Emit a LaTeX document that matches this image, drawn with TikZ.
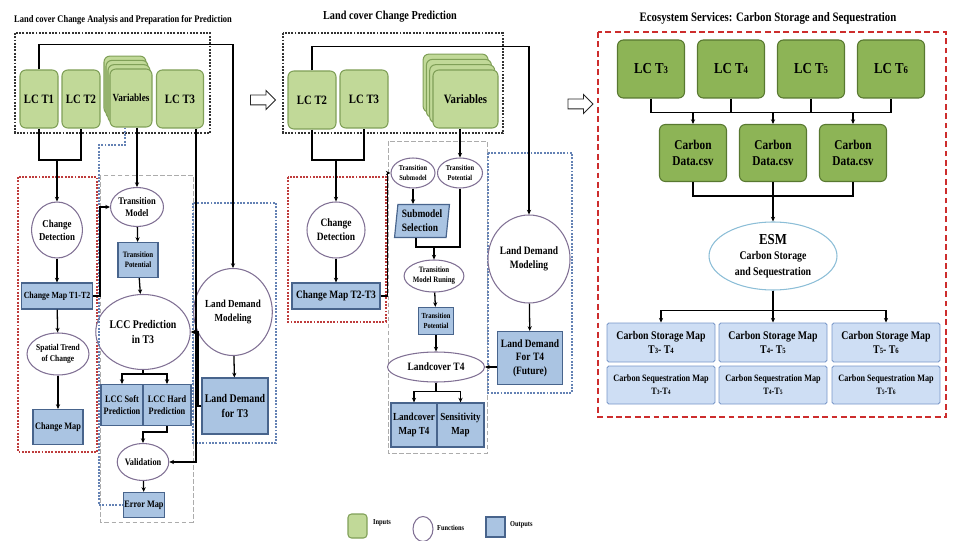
\documentclass[tikz,border=0pt]{standalone}
\usepackage{fontspec}
\setmainfont{Liberation Serif}[FakeStretch=0.84]
\usetikzlibrary{shapes.geometric, shapes.arrows, arrows.meta, calc}
\definecolor{ingreen}{RGB}{193,217,152}
\definecolor{ingreenln}{RGB}{128,160,88}
\definecolor{darkgreen}{RGB}{141,180,86}
\definecolor{darkgreenln}{RGB}{88,120,48}
\definecolor{outblue}{RGB}{170,196,226}
\definecolor{outblueln}{RGB}{72,100,140}
\definecolor{mapblue}{RGB}{206,222,244}
\definecolor{mapblueln}{RGB}{120,150,200}
\definecolor{funedge}{RGB}{128,112,148}
\definecolor{esmedge}{RGB}{140,190,215}
\definecolor{dotred}{RGB}{190,60,60}
\definecolor{dotblue}{RGB}{100,130,180}
\definecolor{dashred}{RGB}{205,45,45}
\newcommand\fsz[2]{\fontsize{#1}{#2}\selectfont\bfseries}
\newcommand\dg[1]{\scalebox{0.68}{#1}}

\begin{document}
\begin{tikzpicture}[x=0.03cm, y=-0.03cm,
    sz/.style 2 args = {minimum width=#1*0.03cm, minimum height=#2*0.03cm},
    inbox/.style   = {draw=ingreenln, fill=ingreen, line width=0.9pt,
                      rounded corners=5pt, inner sep=1pt, align=center,
                      font=\fsz{10.9}{13}},
    inboxdk/.style = {inbox, draw=darkgreenln, fill=darkgreen, font=\fsz{11.5}{14}},
    funell/.style  = {ellipse, draw=funedge, fill=white, line width=0.9pt,
                      inner sep=0pt, align=center, font=\fsz{9}{11}},
    outbox/.style  = {rectangle, draw=outblueln, fill=outblue, line width=1pt,
                      inner sep=1pt, align=center, font=\fsz{9}{11}},
    mapbox/.style  = {rectangle, draw=mapblueln, fill=mapblue, line width=0.8pt,
                      rounded corners=1.5pt, inner sep=1pt, align=center,
                      font=\fsz{10}{12}},
    ln/.style      = {line width=1.1pt, black},
    arr/.style     = {ln, -{Stealth[length=4pt, width=3.6pt]}},
    grpblack/.style = {draw=black!80, line width=1pt, dash pattern=on 1.6pt off 1.2pt},
    grpred/.style   = {draw=dotred, line width=1pt, dash pattern=on 1.6pt off 1.2pt},
    grpblue/.style  = {draw=dotblue, line width=1pt, dash pattern=on 1.6pt off 1.2pt},
    grpgray/.style  = {draw=gray!65, line width=0.8pt, dash pattern=on 4pt off 2pt},
    grpbig/.style   = {draw=dashred, line width=1.3pt, dash pattern=on 5pt off 3pt},
    ttl/.style     = {inner sep=0pt},
    nextarr/.style = {single arrow, draw=black!85, fill=white, line width=0.8pt,
                      minimum height=25*0.03cm, inner xsep=0pt, inner ysep=4.5*0.03cm,
                      single arrow head extend=4.5*0.03cm},
  ]
  \useasboundingbox (0,0) rectangle (953,541);

  % --- Part 1: change analysis ---
  \node[ttl, font=\fsz{8.6}{10}] (ttlA) at (123,20) {Land cover Change Analysis and Preparation for Prediction};
  \draw[grpblack] (15,33) rectangle (210,133);
  \draw[grpred]   (18,177) rectangle (97,452);
  \draw[grpgray]  (100,175) rectangle (193,522);
  \draw[grpblue]  (193,203) rectangle (276,443);

  \node[inbox, sz={38}{58}] (lcA1) at (39,99)  {LC T1};
  \node[inbox, sz={38}{58}] (lcA2) at (81,99)  {LC T2};
  \foreach \k in {3,2,1}
    \node[inbox, sz={42}{58}] (varA\k) at ({131-2*\k},{98-4.3*\k}) {};
  \node[inbox, sz={42}{58}, font=\fsz{9.3}{11}] (varA) at (131,98) {Variables};
  \node[inbox, sz={47}{58}] (lcA3) at (180,99) {LC T3};

  \node[funell, sz={42}{56}] (detA) at (57,230) {Change\\Detection};
  \node[outbox, sz={71}{26}, font=\fsz{8}{10}] (cmapA) at (57,296) {Change Map T1-T2};
  \node[funell, sz={62}{42}, font=\fsz{7.6}{9}] (trend) at (58,354) {Spatial Trend\\of Change};
  \node[outbox, sz={50}{35}, font=\fsz{8.4}{10}] (cmap) at (58,427) {Change Map};

  \node[funell, sz={44}{39}, font=\fsz{8.6}{10.5}] (tmodA) at (137,207) {Transition\\Model};
  \node[outbox, sz={40}{35}, font=\fsz{7}{8.5}] (tpotA) at (138,260) {Transition\\Potential};
  \node[funell, sz={82}{75}, font=\fsz{10}{13}] (lccA) at (143,332) {LCC Prediction\\in T3};
  \node[outbox, sz={42}{41}, font=\fsz{8.4}{10.5}] (soft) at (122,405) {LCC Soft\\Prediction};
  \node[outbox, sz={48}{41}, font=\fsz{8.4}{10.5}] (hard) at (167,405) {LCC Hard\\Prediction};
  \node[funell, sz={43}{37}, font=\fsz{8.4}{10}] (valid) at (143,462) {Validation};
  \node[outbox, sz={40}{25}, font=\fsz{8.4}{10}] (err) at (144,505) {Error Map};

  \node[funell, sz={61}{87}, font=\fsz{9.2}{12}] (ldmA) at (233,312) {Land Demand\\Modeling};
  \node[outbox, sz={66}{56}, font=\fsz{10}{13}] (ldA) at (235,406) {Land Demand\\for T3};

  \draw[grpblue] ($(varA.south)+(-6,0)$) |- (99,145) |- (err.west);
  \draw[ln] (lcA1.south) |- (57,160) -| (lcA2.south);
  \draw[arr] (57,160) -- (detA.north);
  \draw[arr] (lcA1.north) -- ++(0,-25) -| (ldmA.north);
  \draw[arr] (varA.south -| tmodA.north) -- (tmodA.north);
  \draw[arr] ($(lcA3.south)+(16,0)$) |- (valid.east);
  \draw[arr] (ldA.west) -- ++(-3.5,0) |- (lccA.east);
  \draw[arr] (detA) -- (cmapA);
  \draw[arr] (cmapA) -- (trend);
  \draw[arr] (trend) -- (cmap);
  \draw[arr] (cmapA.east) -- ++(7,0) |- (tmodA.west);
  \draw[arr] (tmodA) -- (tpotA);
  \draw[arr] (tpotA) -- (lccA);
  \draw[arr] (lccA.south) -- ++(0,4) -| (soft.north);
  \draw[arr] (lccA.south) -- ++(0,4) -| (hard.north);
  \draw[arr] (hard.south) -- ++(0,6) -| (valid.north);
  \draw[arr] (valid) -- (err);
  \draw[arr] (ldmA) -- (ldA);

  \node[nextarr] (goB) at (260.5,100) {};

  % --- Part 2: prediction ---
  \node[ttl, font=\fsz{10.4}{12}] (ttlB) at (390,17) {Land cover Change Prediction};
  \draw[grpblack] (283,33) rectangle (503,133);
  \draw[grpred]   (288,177) rectangle (386,322);
  \draw[grpgray]  (388,141) rectangle (487,453);
  \draw[grpblue]  (488,153) rectangle (572,393);

  \node[inbox, sz={48}{58}] (lcB2) at (312,100) {LC T2};
  \node[inbox, sz={48}{58}] (lcB3) at (364,99)  {LC T3};
  \foreach \k in {3,2,1}
    \node[inbox, sz={65}{58}] (varB\k) at ({465.5-3.3*\k},{99-5.3*\k}) {};
  \node[inbox, sz={65}{58}] (varB) at (465.5,99) {Variables};

  \node[funell, sz={58}{56}, font=\fsz{9.6}{12}] (detB) at (336,230) {Change\\Detection};
  \node[outbox, sz={88}{26}, font=\fsz{9.6}{11}] (cmapB) at (336,296) {Change Map T2-T3};

  \node[funell, sz={44}{30}, font=\fsz{6.5}{8}] (tsub) at (413,173) {Transition\\Submodel};
  \node[funell, sz={45}{30}, font=\fsz{6.5}{8}] (tpotE) at (460,173) {Transition\\Potential};
  \node[trapezium, trapezium left angle=83, trapezium right angle=97,
        trapezium stretches=true, draw=outblueln, fill=outblue, line width=1pt,
        inner sep=1pt, align=left, font=\fsz{9.6}{12}, sz={55}{33}] (subsel) at (422,221) {Submodel\\Selection};
  \node[funell, sz={52}{32}, font=\fsz{7}{8.5}] (trun) at (434,276) {Transition\\Model Runing};
  \node[outbox, sz={35}{27}, font=\fsz{6.6}{8.5}] (tpotB) at (436,321) {Transition\\Potential};
  \node[funell, sz={97}{30}, font=\fsz{9.6}{11}] (lc4) at (436,367) {Landcover T4};
  \node[outbox, sz={46}{44}, font=\fsz{9.2}{12}] (lcmap) at (414,425) {Landcover\\Map T4};
  \node[outbox, sz={47}{44}, font=\fsz{9.2}{12}] (sens) at (460.5,425) {Sensitivity\\Map};

  \node[funell, sz={60}{88}, font=\fsz{9.6}{12.5}] (ldmB) at (529,259) {Land Demand\\Modeling};
  \node[outbox, sz={65}{53}, font=\fsz{9.6}{11.5}] (ldB) at (530,358) {Land Demand\\For T4\\(Future)};

  \draw[ln] (lcB2.south) |- (336,160) -| (lcB3.south);
  \draw[arr] (336,160) -- (detB.north);
  \draw[arr] (lcB2.north) -- ++(0,-24) -| (ldmB.north);
  \draw[arr] (detB) -- (cmapB);
  \draw[arr] (cmapB.east) -- ++(7,0) |- (tsub.west);
  \draw[arr] (varB.south -| tpotE.north) -- (tpotE.north);
  \draw[arr] (tsub.south) -- (tsub.south |- subsel.north);
  \draw[ln] ($(subsel.south)+(-6,0)$) |- (434,247);
  \draw[ln] (tpotE.south) |- (434,247);
  \draw[arr] (434,247) -- (trun.north);
  \draw[arr] (trun) -- (tpotB);
  \draw[arr] (tpotB) -- (lc4);
  \draw[arr] (ldB.west |- lc4.east) -- (lc4.east);
  \draw[arr] (lc4.south) -- ++(0,9) -| (lcmap.north);
  \draw[arr] (lc4.south) -- ++(0,9) -| (sens.north);
  \draw[arr] (ldmB) -- (ldB);

  \node[nextarr] (goC) at (578,104) {};

  % --- Part 3: ecosystem services ---
  \node[ttl, font=\fsz{11}{13}] (ttlC) at (768,18) {Ecosystem Services: Carbon Storage and Sequestration};
  \draw[grpbig] (598,32) rectangle (946,417);

  \node[inboxdk, sz={67}{58}, font=\fsz{13}{15}] (c3) at (651,69) {LC T\dg{3}};
  \node[inboxdk, sz={67}{58}, font=\fsz{13}{15}] (c4) at (731,69) {LC T\dg{4}};
  \node[inboxdk, sz={67}{58}, font=\fsz{13}{15}] (c5) at (811,69) {LC T\dg{5}};
  \node[inboxdk, sz={67}{58}, font=\fsz{13}{15}] (c6) at (891,69) {LC T\dg{6}};
  \foreach \i/\x in {1/693, 2/773, 3/853}
    \node[inboxdk, sz={67}{57}] (cd\i) at (\x,153) {Carbon\\Data.csv};

  \node[ellipse, draw=esmedge, fill=white, line width=0.9pt, inner sep=0pt,
        align=center, sz={128}{68}, font=\fsz{10}{13}] (esm) at (773,256)
        {{\fontsize{13}{15}\selectfont ESM}\\Carbon Storage\\and Sequestration};

  \node[mapbox, sz={108}{39}] (st1) at (661,342.5) {Carbon Storage Map\\T\dg{3}- T\dg{4}};
  \node[mapbox, sz={108}{39}] (st2) at (773,342.5) {Carbon Storage Map\\T\dg{4}- T\dg{5}};
  \node[mapbox, sz={108}{39}] (st3) at (886,342.5) {Carbon Storage Map\\T\dg{5}- T\dg{6}};
  \node[mapbox, sz={108}{38}, font=\fsz{8.3}{11}] (sq1) at (661,385) {Carbon Sequestration Map\\T\dg{3}-T\dg{4}};
  \node[mapbox, sz={108}{38}, font=\fsz{8.3}{11}] (sq2) at (773,385) {Carbon Sequestration Map\\T\dg{4}-T\dg{5}};
  \node[mapbox, sz={108}{38}, font=\fsz{8.3}{11}] (sq3) at (886,385) {Carbon Sequestration Map\\T\dg{5}-T\dg{6}};

  \draw[ln] (c3.south) -- ++(0,14) -| (c6.south);
  \draw[ln] (c4.south) -- ++(0,14);
  \draw[ln] (c5.south) -- ++(0,14);
  \foreach \d in {cd1, cd2, cd3}
    \draw[arr] (\d.north |- c3.south) ++(0,14) -- (\d.north);
  \draw[ln] (cd1.south) -- ++(0,14) -| (cd3.south);
  \draw[arr] (cd2.south) -- (esm.north);
  \draw[arr] (esm.south) -- ++(0,20) -| (st1.north);
  \draw[arr] (esm.south) -- ++(0,20) -| (st3.north);
  \draw[arr] (esm.south) -- (st2.north);

  % --- Legend ---
  \node[inbox, sz={19}{24}, rounded corners=3pt] (keyIn) at (357.5,526) {};
  \node[anchor=west, font=\fsz{6.5}{7}] (keyInT) at (369,523) {Inputs};
  \node[funell, sz={20}{25}] (keyFn) at (423,529) {};
  \node[anchor=west, font=\fsz{6.5}{7}] (keyFnT) at (433,528) {Functions};
  \node[outbox, sz={19}{20}] (keyOut) at (495.5,527) {};
  \node[anchor=west, font=\fsz{6.5}{7}] (keyOutT) at (506,525) {Outputs};
\end{tikzpicture}
\end{document}
